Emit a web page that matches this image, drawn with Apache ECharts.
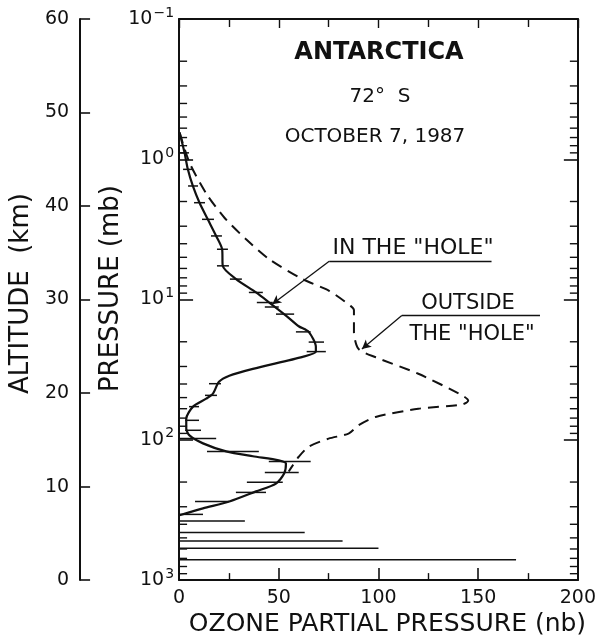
<!DOCTYPE html>
<html>
<head>
<meta charset="utf-8">
<script src="https://cdn.jsdelivr.net/npm/echarts@6/dist/echarts.min.js"></script>
<style>
  html, body { margin: 0; padding: 0; background: #fff; }
  #chart { width: 599px; height: 642px; }
</style>
</head>
<body>
<div id="chart"></div>
<script>
// ---------- data ----------
// "In the hole" profile: ozone partial pressure (nb) vs pressure (mb)
const holeOzone    = [0.25, 2.75, 4.4, 6.9, 10.25, 14.4, 18.6, 21.6, 21.9, 28.6, 38.6, 45.25, 53.6, 60, 65, 68.6, 68.6, 62, 37, 25.2, 20, 17, 13.6, 7, 3.6, 3.6, 5.2, 12, 23.6, 37, 50, 53.6, 52.7, 48.6, 38.6, 25.2, 12, 0.2];
const holePressure = [0.645, 0.90, 1.18, 1.55, 2.04, 2.68, 3.52, 4.38, 5.75, 7.15, 8.9, 10.5, 13.0, 15.5, 17.0, 21.7, 23.6, 25.6, 31.2, 34.9, 38.6, 46.9, 50.9, 58, 70.6, 83, 93, 106, 121, 131, 140, 147.5, 174, 205, 233, 275, 308, 345];

// "Outside the hole" profile
const outOzone    = [0.25, 5.25, 13.9, 22.75, 33.6, 45.25, 61.9, 75.25, 86, 87.7, 87.7, 90, 98.6, 120, 142, 145, 142, 120, 98.6, 90, 85, 75, 65, 60, 57, 55];
const outPressure = [0.645, 1.06, 1.78, 2.61, 3.72, 5.16, 7.15, 8.66, 11.1, 11.9, 17.0, 22.5, 25.8, 33.8, 48.2, 52.4, 56, 60, 68.7, 78.8, 90.3, 98, 112, 132, 152, 168];

// Error bars on the "in the hole" profile: pressure, low, high
const errPressure = [0.90, 1.18, 1.55, 2.04, 2.68, 3.52, 4.38, 5.75, 7.15, 8.9, 10.5, 11.3, 12.7, 17.0, 20.1, 23.5, 39.8, 48.2, 58, 72.6, 85.5, 98, 121, 143, 171, 201, 237, 275, 340, 379, 458, 526, 593, 717];
const errLow      = [0.5, 2, 4.5, 7.5, 11.5, 16, 19, 19, 25.5, 35, 39, 43, 48.6, 58.6, 65, 64, 15, 13, 5, 3, 3, 0, 14, 45, 43, 34, 28.5, 8, 0, 0, 0, 0, 0, 0];
const errHigh     = [5, 7, 9.5, 13, 17.5, 21.5, 24.5, 25, 31.5, 42, 47, 50, 57.7, 66, 72.7, 73.6, 21, 19, 10, 10, 11, 18.6, 40, 66, 60, 52, 43.6, 25, 12, 33, 63, 82, 100, 169];

// Axis ticks
const ozoneTicks = [0, 50, 100, 150, 200];
const pressureMajor = [0.1, 1, 10, 100, 1000];
const pressureMinor = [0.2, 0.3, 0.4, 0.5, 0.6, 0.7, 0.8, 0.9,
                       2, 3, 4, 5, 6, 7, 8, 9,
                       20, 30, 40, 50, 60, 70, 80, 90,
                       200, 300, 400, 500, 600, 700, 800, 900];
const altitudeTicks = [0, 10, 20, 30, 40, 50, 60];

// Annotation leader lines (data coordinates: ozone, pressure)
const holeLeaderFrom = [75.3, 5.33], holeLeaderTo = [46.7, 10.8], holeUnderlineEnd = [156.7, 5.33];
const outLeaderFrom = [111.7, 13.0], outLeaderTo = [91.7, 22.5], outUnderlineEnd = [181, 13.0];

// ---------- chart ----------
const INK = '#111';
const FONT = 'DejaVu Sans';
const chart = echarts.init(document.getElementById('chart'), null, { renderer: 'canvas' });

const holeData = holeOzone.map((v, i) => [v, holePressure[i]]);
const outData = outOzone.map((v, i) => [v, outPressure[i]]);
const errData = errPressure.map((p, i) => [errLow[i], p, errHigh[i]]);
const minorData = pressureMinor.map(p => [ozoneTicks[0], p]);

const supLabel = function (v) {
  const e = Math.round(Math.log10(v));
  return '{b|10}{s|' + (e < 0 ? '\u2212' + (-e) : e) + '}';
};

const txt = (text, x, y, size, weight) => ({
  type: 'text', x: x, y: y, silent: true,
  style: { text: text, fontFamily: FONT, fontSize: size, fontWeight: weight || 'normal', fill: INK, align: 'center', verticalAlign: 'middle' }
});

const option = {
  backgroundColor: '#fff',
  animation: false,
  textStyle: { fontFamily: FONT, color: INK },
  grid: { left: 179, top: 19, right: 19, bottom: 60, containLabel: false },
  xAxis: [
    {
      type: 'value', min: 0, max: 200, interval: 50, position: 'bottom',
      name: 'OZONE PARTIAL PRESSURE (nb)', nameLocation: 'middle', nameGap: 28,
      nameTextStyle: { fontSize: 25, color: INK, fontFamily: FONT, padding: [0, 0, 0, 18] },
      axisLine: { show: true, onZero: false, lineStyle: { color: INK, width: 2 } },
      axisTick: { show: true, inside: true, length: 12, lineStyle: { color: INK, width: 1.6 } },
      minorTick: { show: true, splitNumber: 2, length: 7, lineStyle: { color: INK, width: 1.4 } },
      axisLabel: { fontSize: 19, color: INK, margin: 8, fontFamily: FONT },
      splitLine: { show: false }
    },
    {
      type: 'value', min: 0, max: 200, interval: 50, position: 'top',
      axisLine: { show: true, onZero: false, lineStyle: { color: INK, width: 2 } },
      axisTick: { show: true, inside: true, length: 9, lineStyle: { color: INK, width: 1.4 } },
      minorTick: { show: true, splitNumber: 2, length: 8, lineStyle: { color: INK, width: 1.4 } },
      axisLabel: { show: false },
      splitLine: { show: false }
    }
  ],
  yAxis: [
    {
      type: 'log', logBase: 10, min: 0.1, max: 1000, inverse: true, position: 'left',
      name: 'PRESSURE (mb)', nameLocation: 'middle', nameRotate: 90, nameGap: 55, nameMoveOverlap: false,
      nameTextStyle: { fontSize: 26, color: INK, fontFamily: FONT, padding: [0, 0, 0, 22] },
      axisLine: { show: true, onZero: false, lineStyle: { color: INK, width: 2 } },
      axisTick: { show: true, inside: true, length: 14, lineStyle: { color: INK, width: 1.6 } },
      axisLabel: {
        margin: 5, color: INK, formatter: supLabel,
        rich: {
          b: { fontSize: 19, fontFamily: FONT, color: INK, lineHeight: 20 },
          s: { fontSize: 14, fontFamily: FONT, color: INK, padding: [0, 0, 12, 1], lineHeight: 20 }
        }
      },
      splitLine: { show: false }
    },
    {
      type: 'value', min: 0, max: 60, interval: 10, position: 'left', offset: 99,
      name: 'ALTITUDE  (km)', nameLocation: 'middle', nameRotate: 90, nameGap: 46,
      nameTextStyle: { fontSize: 26, color: INK, fontFamily: FONT, padding: [0, 0, 0, 12] },
      axisLine: { show: true, onZero: false, lineStyle: { color: INK, width: 2 } },
      axisTick: { show: true, inside: true, length: 10, lineStyle: { color: INK, width: 1.6 } },
      axisLabel: { fontSize: 19, color: INK, margin: 11, fontFamily: FONT },
      splitLine: { show: false }
    },
    {
      type: 'log', logBase: 10, min: 0.1, max: 1000, inverse: true, position: 'right',
      axisLine: { show: true, onZero: false, lineStyle: { color: INK, width: 2 } },
      axisTick: { show: true, inside: true, length: 14, lineStyle: { color: INK, width: 1.6 } },
      axisLabel: { show: false },
      splitLine: { show: false }
    }
  ],
  series: [
    {
      name: 'minor ticks', type: 'custom', xAxisIndex: 0, yAxisIndex: 0, clip: false, silent: true,
      data: minorData,
      renderItem: function (params, api) {
        const p = api.value(1);
        const l = api.coord([ozoneTicks[0], p]);
        const r = api.coord([ozoneTicks[ozoneTicks.length - 1], p]);
        const st = { stroke: INK, lineWidth: 1.4 };
        return {
          type: 'group',
          children: [
            { type: 'line', shape: { x1: l[0], y1: l[1], x2: l[0] + 8, y2: l[1] }, style: st },
            { type: 'line', shape: { x1: r[0], y1: r[1], x2: r[0] - 8, y2: r[1] }, style: st }
          ]
        };
      }
    },
    {
      name: 'error bars', type: 'custom', xAxisIndex: 0, yAxisIndex: 0, clip: false, silent: true,
      data: errData,
      encode: { x: [0, 2], y: 1 },
      renderItem: function (params, api) {
        const a = api.coord([api.value(0), api.value(1)]);
        const b = api.coord([api.value(2), api.value(1)]);
        return { type: 'line', shape: { x1: a[0], y1: a[1], x2: b[0], y2: b[1] }, style: { stroke: INK, lineWidth: 1.5 } };
      }
    },
    {
      name: 'IN THE "HOLE"', type: 'line', xAxisIndex: 0, yAxisIndex: 0,
      data: holeData, showSymbol: false, symbol: 'none', smooth: 0.25,
      lineStyle: { color: INK, width: 2.2 },
      markLine: {
        silent: true, symbol: ['none', 'arrow'], symbolSize: [7, 9], animation: false,
        lineStyle: { color: INK, width: 1.3, type: 'solid' }, label: { show: false },
        data: [
          [{ coord: holeLeaderFrom, symbol: 'none' }, { coord: holeLeaderTo }],
          [{ coord: holeLeaderFrom, symbol: 'none' }, { coord: holeUnderlineEnd, symbol: 'none' }]
        ]
      }
    },
    {
      name: 'OUTSIDE THE "HOLE"', type: 'line', xAxisIndex: 0, yAxisIndex: 0,
      data: outData, showSymbol: false, symbol: 'none', smooth: 0.25,
      lineStyle: { color: INK, width: 2, type: [11, 7] },
      markLine: {
        silent: true, symbol: ['none', 'arrow'], symbolSize: [7, 9], animation: false,
        lineStyle: { color: INK, width: 1.3, type: 'solid' }, label: { show: false },
        data: [
          [{ coord: outLeaderFrom, symbol: 'none' }, { coord: outLeaderTo }],
          [{ coord: outLeaderFrom, symbol: 'none' }, { coord: outUnderlineEnd, symbol: 'none' }]
        ]
      }
    }
  ],
  graphic: [
    txt('ANTARCTICA', 379, 53, 24, 'bold'),
    txt('72°  S', 380, 97, 20),
    txt('OCTOBER 7, 1987', 375, 137, 20),
    txt('IN THE "HOLE"', 413, 248, 22),
    txt('OUTSIDE', 468, 304, 21),
    txt('THE "HOLE"', 472, 335, 21)
  ]
};
chart.setOption(option);
</script>
</body>
</html>
